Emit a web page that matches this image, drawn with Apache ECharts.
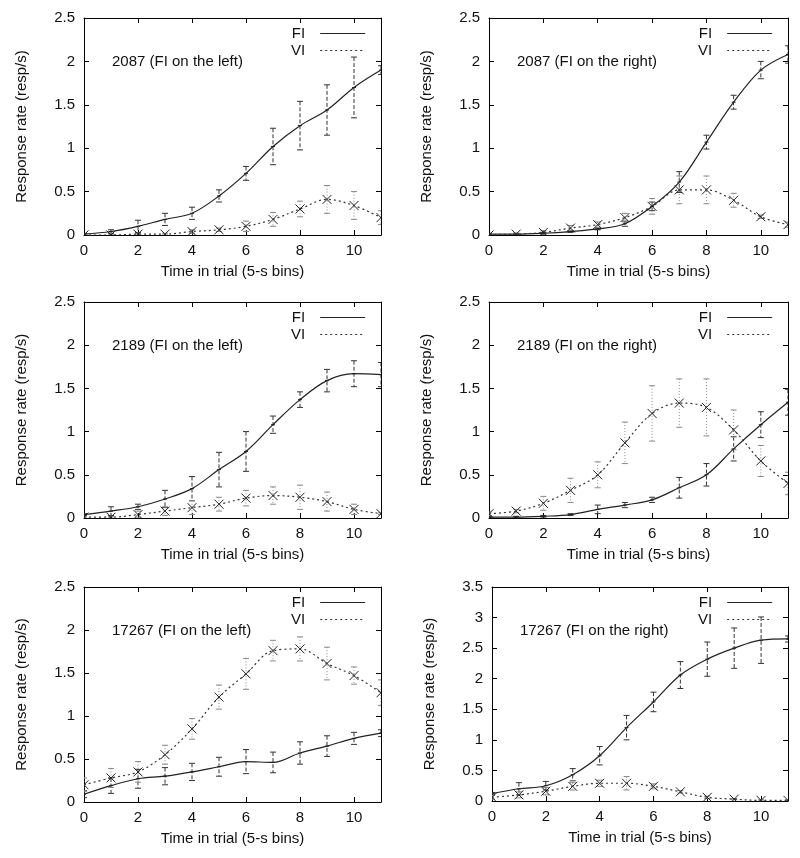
<!DOCTYPE html>
<html>
<head>
<meta charset="utf-8">
<script src="https://cdn.jsdelivr.net/npm/echarts@6/dist/echarts.min.js"></script>
<style>
  html, body { margin: 0; background: #fff; }
  #graphics { width: 800px; height: 858px; }
</style>
</head>
<body>
<div id="graphics"></div>
<script>
// time bins (5-s bins)
var bins = [0, 1, 2, 3, 4, 5, 6, 7, 8, 9, 10, 11];

// 2087, FI on the left
var fi2087L    = [0.01, 0.04, 0.10, 0.18, 0.25, 0.45, 0.71, 1.02, 1.26, 1.44, 1.70, 1.90];
var fi2087LErr = [0.01, 0.02, 0.07, 0.07, 0.07, 0.07, 0.08, 0.21, 0.28, 0.29, 0.35, 0.05];
var vi2087L    = [0.00, 0.00, 0.01, 0.01, 0.04, 0.06, 0.10, 0.18, 0.30, 0.41, 0.34, 0.20];
var vi2087LErr = [0.00, 0.01, 0.01, 0.01, 0.02, 0.02, 0.06, 0.08, 0.09, 0.16, 0.16, 0.08];

// 2087, FI on the right
var fi2087R    = [0.01, 0.01, 0.02, 0.04, 0.07, 0.13, 0.33, 0.61, 1.07, 1.53, 1.90, 2.08];
var fi2087RErr = [0.01, 0.01, 0.01, 0.01, 0.01, 0.03, 0.05, 0.12, 0.08, 0.08, 0.10, 0.10];
var vi2087R    = [0.00, 0.01, 0.03, 0.08, 0.12, 0.20, 0.33, 0.52, 0.52, 0.40, 0.21, 0.12];
var vi2087RErr = [0.01, 0.01, 0.02, 0.03, 0.03, 0.05, 0.09, 0.16, 0.16, 0.08, 0.02, 0.03];

// 2189, FI on the left
var fi2189L    = [0.04, 0.08, 0.13, 0.22, 0.34, 0.56, 0.77, 1.08, 1.37, 1.59, 1.67, 1.66];
var fi2189LErr = [0.01, 0.05, 0.03, 0.10, 0.14, 0.20, 0.23, 0.10, 0.09, 0.13, 0.15, 0.14];
var vi2189L    = [0.01, 0.01, 0.04, 0.08, 0.12, 0.16, 0.23, 0.26, 0.24, 0.19, 0.10, 0.05];
var vi2189LErr = [0.01, 0.01, 0.04, 0.05, 0.08, 0.08, 0.09, 0.10, 0.14, 0.11, 0.06, 0.01];

// 2189, FI on the right
var fi2189R    = [0.01, 0.01, 0.02, 0.04, 0.10, 0.15, 0.21, 0.35, 0.50, 0.80, 1.08, 1.34];
var fi2189RErr = [0.01, 0.01, 0.01, 0.01, 0.05, 0.03, 0.03, 0.12, 0.13, 0.14, 0.15, 0.15];
var vi2189R    = [0.05, 0.08, 0.17, 0.32, 0.50, 0.87, 1.21, 1.33, 1.28, 1.02, 0.66, 0.40];
var vi2189RErr = [0.02, 0.02, 0.08, 0.14, 0.15, 0.24, 0.32, 0.28, 0.33, 0.23, 0.18, 0.13];

// 17267, FI on the left
var fi17267L    = [0.09, 0.19, 0.27, 0.30, 0.35, 0.41, 0.47, 0.46, 0.57, 0.65, 0.74, 0.80];
var fi17267LErr = [0.04, 0.09, 0.11, 0.10, 0.10, 0.11, 0.14, 0.12, 0.13, 0.12, 0.07, 0.04];
var vi17267L    = [0.20, 0.28, 0.35, 0.55, 0.85, 1.22, 1.49, 1.76, 1.78, 1.61, 1.47, 1.27];
var vi17267LErr = [0.08, 0.11, 0.12, 0.11, 0.12, 0.14, 0.18, 0.12, 0.14, 0.19, 0.10, 0.15];

// 17267, FI on the right
var fi17267R    = [0.12, 0.20, 0.25, 0.43, 0.74, 1.20, 1.62, 2.06, 2.32, 2.50, 2.63, 2.65];
var fi17267RErr = [0.02, 0.10, 0.07, 0.10, 0.15, 0.20, 0.16, 0.22, 0.28, 0.33, 0.38, 0.05];
var vi17267R    = [0.06, 0.10, 0.16, 0.24, 0.29, 0.29, 0.24, 0.15, 0.06, 0.03, 0.01, 0.01];
var vi17267RErr = [0.03, 0.05, 0.06, 0.06, 0.05, 0.11, 0.04, 0.02, 0.02, 0.01, 0.01, 0.01];

var panels = [
  { label: '2087 (FI on the left)',   fi: fi2087L,  fiErr: fi2087LErr,  vi: vi2087L,  viErr: vi2087LErr,  yMax: 2.5 },
  { label: '2087 (FI on the right)',  fi: fi2087R,  fiErr: fi2087RErr,  vi: vi2087R,  viErr: vi2087RErr,  yMax: 2.5 },
  { label: '2189 (FI on the left)',   fi: fi2189L,  fiErr: fi2189LErr,  vi: vi2189L,  viErr: vi2189LErr,  yMax: 2.5 },
  { label: '2189 (FI on the right)',  fi: fi2189R,  fiErr: fi2189RErr,  vi: vi2189R,  viErr: vi2189RErr,  yMax: 2.5 },
  { label: '17267 (FI on the left)',  fi: fi17267L, fiErr: fi17267LErr, vi: vi17267L, viErr: vi17267LErr, yMax: 2.5 },
  { label: '17267 (FI on the right)', fi: fi17267R, fiErr: fi17267RErr, vi: vi17267R, viErr: vi17267RErr, yMax: 3.5 }
];

// plot boxes [left, top, width, height]
var boxes = [
  [84, 18, 297, 217], [489, 18, 299, 217],
  [84, 302, 297, 216], [489, 302, 299, 216],
  [84, 587, 297, 215], [492, 587, 296, 214]
];

var FONT = '"Liberation Sans", Arial, Helvetica, sans-serif';
var INK = '#111';
var FS = 15;

function errorBars(kind) {
  return function (params, api) {
    var x = api.value(0), y = api.value(1), e = api.value(2);
    var lo = Math.max(y - e, 0);
    var top = api.coord([x, y + e]);
    var bot = api.coord([x, lo]);
    var mid = api.coord([x, y]);
    var cap = 3;
    var barStyle = kind === 'fi'
      ? { stroke: '#333', lineWidth: 1, lineDash: [4, 2] }
      : { stroke: '#888', lineWidth: 1, lineDash: [1, 2] };
    var capStyle = { stroke: kind === 'fi' ? '#333' : '#888', lineWidth: 1 };
    var children = [
      { type: 'line', shape: { x1: top[0], y1: top[1], x2: bot[0], y2: bot[1] }, style: barStyle },
      { type: 'line', shape: { x1: top[0] - cap, y1: top[1], x2: top[0] + cap, y2: top[1] }, style: capStyle },
      { type: 'line', shape: { x1: bot[0] - cap, y1: bot[1], x2: bot[0] + cap, y2: bot[1] }, style: capStyle }
    ];
    if (kind === 'vi') {
      var s = 4.5;
      children.push(
        { type: 'line', shape: { x1: mid[0] - s, y1: mid[1] - s, x2: mid[0] + s, y2: mid[1] + s }, style: { stroke: '#222', lineWidth: 1 } },
        { type: 'line', shape: { x1: mid[0] - s, y1: mid[1] + s, x2: mid[0] + s, y2: mid[1] - s }, style: { stroke: '#222', lineWidth: 1 } }
      );
    } else {
      children.push(
        { type: 'line', shape: { x1: mid[0] - 2, y1: mid[1], x2: mid[0] + 2, y2: mid[1] }, style: { stroke: '#222', lineWidth: 1 } }
      );
    }
    return { type: 'group', children: children };
  };
}

var option = {
  animation: false,
  backgroundColor: '#fff',
  textStyle: { fontFamily: FONT },
  grid: [], xAxis: [], yAxis: [], series: [], legend: [], graphic: []
};

panels.forEach(function (p, i) {
  var b = boxes[i];
  option.grid.push({ left: b[0], top: b[1], width: b[2], height: b[3], containLabel: false });

  var tick = { inside: true, length: 5, lineStyle: { color: '#000' } };
  var line = { show: true, onZero: false, lineStyle: { color: '#000', width: 1 } };

  option.xAxis.push({
    type: 'value', gridIndex: i, min: 0, max: 11, interval: 2,
    name: 'Time in trial (5-s bins)', nameLocation: 'middle', nameGap: 29,
    nameTextStyle: { fontSize: FS, color: INK, fontFamily: FONT },
    axisLine: line, axisTick: tick, splitLine: { show: false },
    axisLabel: { fontSize: FS, color: INK, margin: 8, showMaxLabel: false, fontFamily: FONT }
  });
  option.xAxis.push({
    type: 'value', gridIndex: i, position: 'top', min: 0, max: 11, interval: 2,
    axisLine: line, axisTick: tick, axisLabel: { show: false }, splitLine: { show: false }
  });
  option.yAxis.push({
    type: 'value', gridIndex: i, min: 0, max: p.yMax, interval: 0.5,
    name: 'Response rate (resp/s)', nameLocation: 'middle', nameGap: 55,
    nameTextStyle: { fontSize: FS, color: INK, fontFamily: FONT },
    axisLine: line, axisTick: tick, splitLine: { show: false },
    axisLabel: { fontSize: FS, color: INK, margin: 9, fontFamily: FONT }
  });
  option.yAxis.push({
    type: 'value', gridIndex: i, position: 'right', min: 0, max: p.yMax, interval: 0.5,
    axisLine: line, axisTick: tick, axisLabel: { show: false }, splitLine: { show: false }
  });

  var xi = i * 2, yi = i * 2;
  var fiData = bins.map(function (x, k) { return [x, p.fi[k]]; });
  var viData = bins.map(function (x, k) { return [x, p.vi[k]]; });
  var fiErrData = bins.map(function (x, k) { return [x, p.fi[k], p.fiErr[k]]; });
  var viErrData = bins.map(function (x, k) { return [x, p.vi[k], p.viErr[k]]; });

  option.series.push({
    name: 'FI', type: 'line', xAxisIndex: xi, yAxisIndex: yi, data: fiData,
    smooth: 0.35, symbol: 'none', color: '#222', clip: true,
    lineStyle: { color: '#222', width: 1.2 }, z: 3
  });
  option.series.push({
    name: 'VI', type: 'line', xAxisIndex: xi, yAxisIndex: yi, data: viData,
    smooth: 0.35, symbol: 'none', color: '#333', clip: true,
    lineStyle: { color: '#333', width: 1.2, type: [2, 3] }, z: 3
  });
  option.series.push({
    type: 'custom', xAxisIndex: xi, yAxisIndex: yi, data: fiErrData, clip: true,
    renderItem: errorBars('fi'), encode: { x: 0, y: 1 }, z: 2, silent: true
  });
  option.series.push({
    type: 'custom', xAxisIndex: xi, yAxisIndex: yi, data: viErrData, clip: true,
    renderItem: errorBars('vi'), encode: { x: 0, y: 1 }, z: 2, silent: true
  });

  option.legend.push({
    data: ['FI', 'VI'], orient: 'vertical', align: 'right',
    left: b[0] + b[2] - 95, top: b[1] + 3,
    itemWidth: 45, itemHeight: 12, itemGap: 2,
    itemStyle: { opacity: 0 },
    lineStyle: { width: 1 },
    textStyle: { fontSize: FS, color: INK, fontFamily: FONT, padding: [0, 10, 0, 0] },
    selectedMode: false
  });

  option.graphic.push({
    type: 'text', left: b[0] + 28, top: b[1] + 36,
    style: { text: p.label, fontSize: FS, fill: INK, fontFamily: FONT }
  });
});

var myChart = echarts.init(document.getElementById('graphics'));
myChart.setOption(option);
</script>
</body>
</html>
